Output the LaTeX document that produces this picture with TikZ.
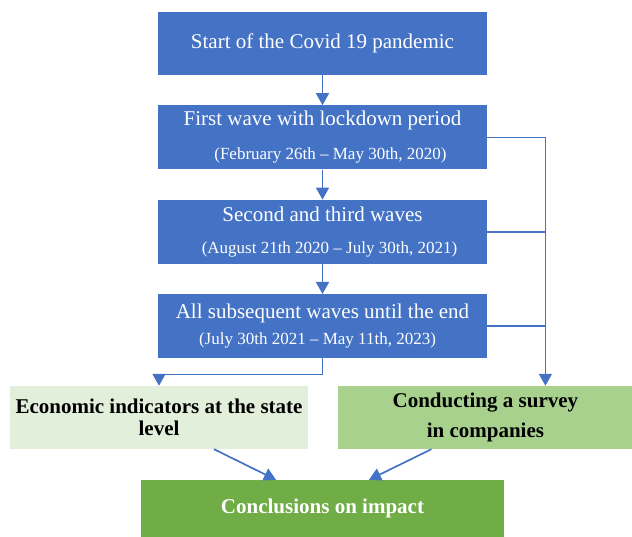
\documentclass[tikz,border=0pt]{standalone}
\usepackage{fontspec}
\setmainfont{Liberation Serif}
\usetikzlibrary{positioning,arrows.meta}
\definecolor{wavesblue}{HTML}{4472C4}
\definecolor{palegreen}{HTML}{E2EFDA}
\definecolor{midgreen}{HTML}{A9D18E}
\definecolor{darkgreen}{HTML}{70AD47}
\tikzset{
  phase/.style={fill=wavesblue, text=white, minimum width=329pt, minimum height=64pt,
    inner sep=0pt, align=center, font=\fontsize{21}{25}\selectfont},
  source/.style={minimum height=63pt, inner sep=0pt, align=center,
    font=\fontsize{21}{22}\selectfont\bfseries},
  flow/.style={wavesblue, line width=1.7pt, -{Triangle[width=13pt,length=12pt]}},
  joint/.style={wavesblue, line width=1.7pt}
}
\newcommand{\dates}[1]{{\fontsize{17}{20}\selectfont #1}}

\begin{document}
\begin{tikzpicture}[x=1pt,y=1pt]
\useasboundingbox (0,0) rectangle (632,-537);
\node[phase, minimum height=63pt] (start) at (322.5,-43.5) {Start of the Covid 19 pandemic};
\node[phase, below=30pt of start] (wave1) {First wave with lockdown period\\[9pt]\dates{\hspace*{16pt}(February 26th -- May 30th, 2020)}};
\node[phase, below=30pt of wave1] (wave2-3) {Second and third waves\\[7pt]\dates{\hspace*{14pt}(August 21th 2020 -- July 30th, 2021)}};
\node[phase, below=30pt of wave2-3] (waves-rest) {All subsequent waves until the end\\[1pt]\dates{(July 30th 2021 -- May 11th, 2023)\hspace*{10pt}}};
\node[source, fill=palegreen, minimum width=298pt] (econ) at (159,-417.5) {Economic indicators at the state\\level};
\node[source, fill=midgreen, minimum width=294pt, right=30pt of econ] (survey) {Conducting a survey\\[8pt]in companies};
\node[source, fill=darkgreen, text=white, minimum width=363pt, minimum height=57pt] (concl) at (322.5,-508.5) {Conclusions on impact};
% main chain
\draw[flow] (start) -- (wave1);
\draw[flow] (wave1) -- (wave2-3);
\draw[flow] (wave2-3) -- (waves-rest);
\draw[flow] (waves-rest.south) -- ++(0,-16) -| (econ.north);
% right trunk
\draw[flow] (wave1.east) -| ([xshift=60pt]survey.north);
\draw[joint] (wave2-3.east) -- ++(58,0);
\draw[joint] (waves-rest.east) -- ++(58,0);
% into conclusions
\draw[flow] ([xshift=55pt]econ.south) -- ([xshift=-46.5pt]concl.north);
\draw[flow] ([xshift=-54pt]survey.south) -- ([xshift=46.5pt]concl.north);
\end{tikzpicture}
\end{document}
